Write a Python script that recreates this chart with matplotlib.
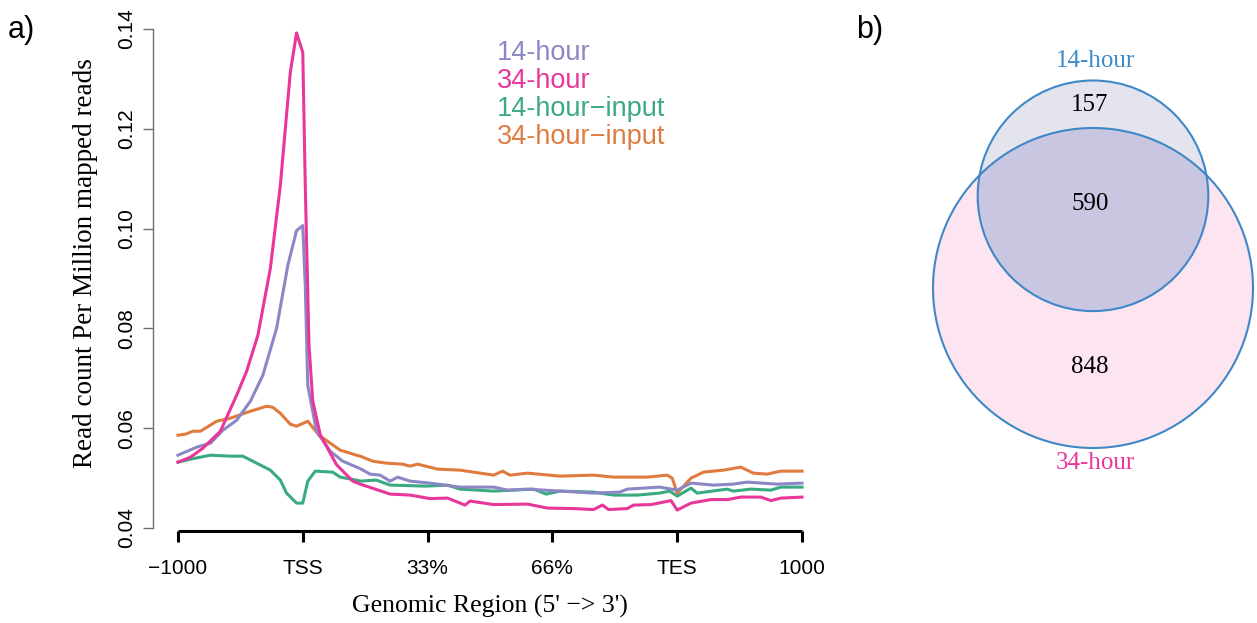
import numpy as np
import matplotlib
matplotlib.use("Agg")
import matplotlib.pyplot as plt
from matplotlib.patches import Circle

# ---------------- data ----------------
tick_pos = [0, 1, 2, 3, 4, 5]
tick_labels = ["\u22121000", "TSS", "33%", "66%", "TES", "1000"]
series_names = ["14-hour", "34-hour", "14-hour\u2212input", "34-hour\u2212input"]

x_14h = [0, 0.15, 0.26, 0.36, 0.47, 0.58, 0.68, 0.79, 0.88, 0.95, 1.00, 1.02, 1.04, 1.11, 1.22,
         1.32, 1.46, 1.54, 1.62, 1.70, 1.76, 1.86, 2.02, 2.26, 2.53, 2.64, 2.80, 3.06, 3.33, 3.54,
         3.60, 3.86, 4.00, 4.11, 4.29, 4.45, 4.56, 4.80, 5.00]
y_14h = [0.0546, 0.0562, 0.0570, 0.0596, 0.0616, 0.0654, 0.0706, 0.0800, 0.0926, 0.0996, 0.1006,
         0.0886, 0.0686, 0.0594, 0.0554, 0.0534, 0.0519, 0.0508, 0.0506, 0.0494, 0.0502, 0.0494,
         0.0490, 0.0482, 0.0482, 0.0476, 0.0478, 0.0474, 0.0470, 0.0472, 0.0478, 0.0482, 0.0476,
         0.0490, 0.0486, 0.0488, 0.0492, 0.0488, 0.0490]

x_34h = [0, 0.10, 0.20, 0.34, 0.47, 0.55, 0.64, 0.74, 0.82, 0.90, 0.95, 1.00, 1.02, 1.05, 1.08,
         1.14, 1.27, 1.40, 1.46, 1.70, 1.86, 2.02, 2.16, 2.30, 2.34, 2.53, 2.80, 2.96, 3.17, 3.33,
         3.40, 3.45, 3.60, 3.65, 3.79, 3.95, 4.00, 4.11, 4.27, 4.40, 4.51, 4.67, 4.75, 4.83, 5.00]
y_34h = [0.0532, 0.0542, 0.0560, 0.0594, 0.0666, 0.0714, 0.0786, 0.0920, 0.1086, 0.1313, 0.1392,
         0.1353, 0.1086, 0.0766, 0.0654, 0.0587, 0.0527, 0.0494, 0.0488, 0.0468, 0.0466, 0.0459,
         0.0460, 0.0446, 0.0454, 0.0447, 0.0448, 0.0440, 0.0439, 0.0437, 0.0446, 0.0437, 0.0439,
         0.0446, 0.0447, 0.0455, 0.0436, 0.0450, 0.0457, 0.0457, 0.0462, 0.0462, 0.0455, 0.0460,
         0.0462]

x_14in = [0, 0.10, 0.26, 0.42, 0.52, 0.63, 0.74, 0.82, 0.87, 0.95, 1.00, 1.04, 1.10, 1.24, 1.30,
          1.43, 1.46, 1.59, 1.70, 1.99, 2.16, 2.26, 2.53, 2.85, 2.95, 3.06, 3.33, 3.49, 3.68, 3.86,
          3.94, 4.00, 4.11, 4.16, 4.40, 4.45, 4.59, 4.75, 4.83, 5.00]
y_14in = [0.0532, 0.0538, 0.0546, 0.0544, 0.0544, 0.0530, 0.0516, 0.0496, 0.0470, 0.0450, 0.0450,
          0.0494, 0.0514, 0.0512, 0.0502, 0.0496, 0.0494, 0.0496, 0.0486, 0.0484, 0.0486, 0.0478,
          0.0474, 0.0478, 0.0468, 0.0474, 0.0472, 0.0466, 0.0466, 0.0470, 0.0474, 0.0464, 0.0480,
          0.0470, 0.0478, 0.0474, 0.0478, 0.0476, 0.0482, 0.0482]

x_34in = [0, 0.06, 0.12, 0.18, 0.31, 0.42, 0.58, 0.71, 0.76, 0.82, 0.90, 0.95, 1.04, 1.13, 1.30,
          1.43, 1.46, 1.56, 1.67, 1.80, 1.86, 1.92, 2.08, 2.26, 2.53, 2.60, 2.66, 2.80, 3.06, 3.33,
          3.49, 3.76, 3.92, 3.96, 4.00, 4.11, 4.21, 4.37, 4.51, 4.61, 4.72, 4.83, 5.00]
y_34in = [0.0586, 0.0588, 0.0594, 0.0594, 0.0614, 0.0620, 0.0634, 0.0644, 0.0642, 0.0630, 0.0608,
          0.0604, 0.0614, 0.0586, 0.0556, 0.0546, 0.0544, 0.0534, 0.0530, 0.0528, 0.0524, 0.0528,
          0.0518, 0.0516, 0.0506, 0.0514, 0.0506, 0.0510, 0.0504, 0.0506, 0.0502, 0.0502, 0.0506,
          0.0500, 0.0470, 0.0500, 0.0512, 0.0516, 0.0522, 0.0510, 0.0508, 0.0514, 0.0514]

venn_only_14h = 157
venn_shared = 590
venn_only_34h = 848
venn_names = ["14-hour", "34-hour"]

# ---------------- style ----------------
col_14h = "#8b87c5"
col_34h = "#e8369a"
col_14in = "#3aaa80"
col_34in = "#e07b40"

W, H = 1257, 623
fig = plt.figure(figsize=(W / 100, H / 100), dpi=100)
SANS = ["Liberation Sans", "DejaVu Sans"]
SERIF = ["Liberation Serif", "DejaVu Serif"]

def px(x, y):
    return x / W, 1 - y / H

# ---------------- line chart ----------------
l, b = px(153, 548)
r, t = px(827, 9)
ax = fig.add_axes([l, b, r - l, t - b])
for xs, ys, c in [(x_14in, y_14in, col_14in), (x_34in, y_34in, col_34in),
                  (x_14h, y_14h, col_14h), (x_34h, y_34h, col_34h)]:
    ax.plot(xs, ys, color=c, lw=2.2, solid_joinstyle="round")
ax.set_xlim(-0.2, 5.2)
ax.set_ylim(0.036, 0.144)

for s in ["top", "right"]:
    ax.spines[s].set_visible(False)
ax.spines["left"].set_bounds(0.04, 0.14)
ax.spines["left"].set_color("#707070")
ax.spines["left"].set_linewidth(1.0)
ax.spines["bottom"].set_position(("data", 0.0394))
ax.spines["bottom"].set_bounds(0, 5)
ax.spines["bottom"].set_linewidth(2.2)
ax.spines["bottom"].set_capstyle("butt")

ax.set_yticks([0.04, 0.06, 0.08, 0.10, 0.12, 0.14])
ax.set_yticklabels(["0.04", "0.06", "0.08", "0.10", "0.12", "0.14"],
                   rotation=90, va="center", family=SANS, fontsize=15)
ax.tick_params(axis="y", length=7.2, width=1.0, color="#707070", pad=5)
ax.set_xticks(tick_pos)
ax.set_xticklabels(tick_labels, family=SANS, fontsize=15)
ax.tick_params(axis="x", length=8, width=2.2, color="black", pad=12)

fig.text(*px(86, 263), "Read count Per Million mapped reads", rotation=90,
         ha="center", va="center", family=SERIF, fontsize=19.5)
fig.text(*px(490, 606), "Genomic Region (5' \u2212> 3')", ha="center", va="center",
         family=SERIF, fontsize=18.5)

for i, (name, c) in enumerate(zip(series_names, [col_14h, col_34h, col_14in, col_34in])):
    fig.text(*px(497, 53 + 28 * i), name, color=c, ha="left", va="center",
             family=SANS, fontsize=19.5)

fig.text(*px(8, 30), "a)", ha="left", va="center", family=SANS, fontsize=22)
fig.text(*px(856, 30), "b)", ha="left", va="center", family=SANS, fontsize=22)

# ---------------- Venn diagram (area proportional) ----------------
axv = fig.add_axes([0, 0, 1, 1])
axv.set_xlim(0, W)
axv.set_ylim(H, 0)
axv.axis("off")

n1 = venn_only_14h + venn_shared
n2 = venn_only_34h + venn_shared
scale = 160.0 / np.sqrt(n2)        # px per sqrt(count)
r1 = scale * np.sqrt(n1)
r2 = scale * np.sqrt(n2)
target = venn_shared / n1 * np.pi * r1 ** 2

def overlap(d):
    if d >= r1 + r2:
        return 0.0
    if d <= abs(r2 - r1):
        return np.pi * min(r1, r2) ** 2
    a1 = r1 ** 2 * np.arccos((d * d + r1 * r1 - r2 * r2) / (2 * d * r1))
    a2 = r2 ** 2 * np.arccos((d * d + r2 * r2 - r1 * r1) / (2 * d * r2))
    a3 = 0.5 * np.sqrt((-d + r1 + r2) * (d + r1 - r2) * (d - r1 + r2) * (d + r1 + r2))
    return a1 + a2 - a3

lo, hi = abs(r2 - r1), r1 + r2
for _ in range(80):
    mid = 0.5 * (lo + hi)
    if overlap(mid) > target:
        lo = mid
    else:
        hi = mid
dist = 0.5 * (lo + hi)

cx, cy2 = 1093, 288
cy1 = cy2 - dist
edge = "#3f87c7"
big = Circle((cx, cy2), r2, facecolor="#fce5f1", edgecolor="none", zorder=1)
small = Circle((cx, cy1), r1, facecolor="#e4e4ef", edgecolor="none", zorder=2)
inter = Circle((cx, cy1), r1, facecolor="#c9c6e1", edgecolor="none", zorder=3)
axv.add_patch(big)
axv.add_patch(small)
axv.add_patch(inter)
clip = Circle((cx, cy2), r2, transform=axv.transData)
inter.set_clip_path(clip)
axv.add_patch(Circle((cx, cy2), r2, facecolor="none", edgecolor=edge, lw=1.5, zorder=4))
axv.add_patch(Circle((cx, cy1), r1, facecolor="none", edgecolor=edge, lw=1.5, zorder=5))

top_small = cy1 - r1
top_big = cy2 - r2
bot_small = cy1 + r1
bot_big = cy2 + r2
axv.text(cx - 3, (top_small + top_big) / 2 + 1, str(venn_only_14h), ha="center", va="center",
         family=SERIF, fontsize=18, zorder=6)
axv.text(cx - 3, (top_big + bot_small) / 2 - 16, str(venn_shared), ha="center", va="center",
         family=SERIF, fontsize=18, zorder=6)
axv.text(cx - 3, (bot_small + bot_big) / 2 - 13, str(venn_only_34h), ha="center", va="center",
         family=SERIF, fontsize=18, zorder=6)
axv.text(cx + 2, top_small - 19, venn_names[0], color="#3c8bc9", ha="center", va="center",
         family=SERIF, fontsize=18, zorder=6)
axv.text(cx + 2, bot_big + 15, venn_names[1], color=col_34h, ha="center", va="center",
         family=SERIF, fontsize=18, zorder=6)

fig.savefig("out.png", dpi=100)
